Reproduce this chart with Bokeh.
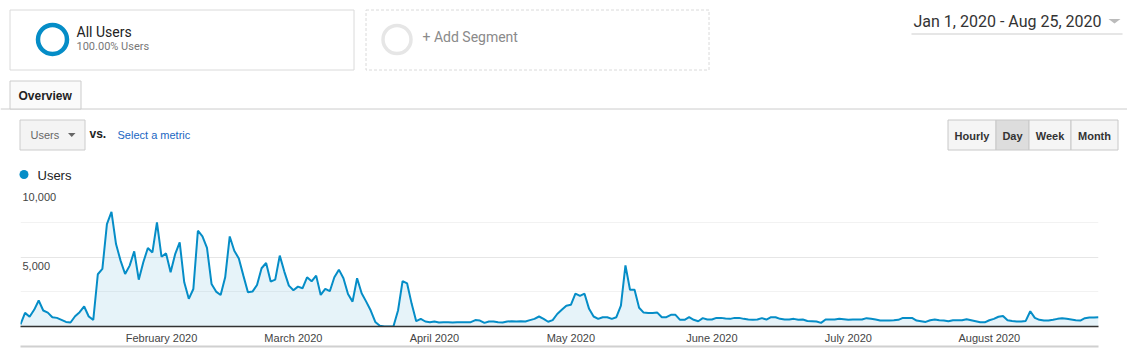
import pandas as pd
from bokeh.plotting import figure
from bokeh.models import Range1d, FixedTicker, DatetimeAxis, ColumnDataSource
from bokeh.layouts import column
from bokeh.core.properties import value
from bokeh.embed import file_html
from bokeh.resources import INLINE

# ---------------- data (daily users, Jan 1 - Aug 25, 2020) ----------------
jan = [150, 980, 700, 1200, 1870, 1150, 1000, 670, 620, 480, 330, 290, 740, 1030, 1440,
       720, 480, 3760, 4140, 7370, 8250, 5930, 4740, 3780, 4380, 5410, 3370, 4620, 5650,
       5330, 7490]
feb = [5020, 5260, 3900, 5200, 6050, 3180, 1990, 2700, 6890, 6480, 5650, 3060, 2510, 2270,
       3540, 6480, 5450, 4900, 3660, 2460, 2510, 2990, 4190, 4570, 3230, 3370, 5100, 3950,
       2940]
mar = [2610, 2870, 2750, 3540, 3250, 3660, 2270, 2700, 2540, 3540, 4090, 3470, 2340, 1790,
       3470, 2390, 1790, 1150, 330, 50, 0, 0, 20, 1150, 3270, 3100, 1630, 380, 550, 360, 310]
apr = [360, 290, 310, 310, 290, 310, 310, 310, 310, 460, 430, 260, 360, 360, 310, 290, 360,
       380, 360, 380, 360, 460, 550, 720, 550, 340, 460, 900, 1200, 1500]
may = [1560, 2360, 2200, 2360, 1270, 720, 550, 670, 670, 550, 670, 1500, 4400, 2640, 2640,
       1350, 1000, 980, 980, 1000, 670, 670, 840, 840, 480, 480, 670, 480, 380, 600, 500]
jun = [500, 620, 620, 580, 550, 620, 620, 550, 500, 480, 500, 600, 500, 670, 670, 550, 500,
       500, 550, 480, 500, 400, 380, 360, 260, 500, 500, 500, 550, 520]
jul = [480, 500, 500, 500, 600, 550, 500, 430, 430, 430, 450, 480, 620, 620, 620, 430, 380,
       330, 450, 500, 450, 430, 380, 450, 450, 450, 520, 450, 380, 300, 300]
aug = [450, 550, 700, 760, 450, 400, 360, 360, 400, 1100, 620, 480, 430, 430, 480, 550, 600,
       550, 500, 450, 430, 600, 650, 650, 670]

users = jan + feb + mar + apr + may + jun + jul + aug
dates = pd.date_range("2020-01-01", periods=len(users), freq="D")

month_ticks = ["2020-02-01", "2020-03-01", "2020-04-01", "2020-05-01",
               "2020-06-01", "2020-07-01", "2020-08-01"]
month_labels = ["February 2020", "March 2020", "April 2020", "May 2020",
                "June 2020", "July 2020", "August 2020"]
y_ticks = [5000, 10000]
y_tick_labels = ["5,000", "10,000"]

# ---------------- styling ----------------
W = 1127
BLUE = "#058dc7"
ARIAL = "Liberation Sans"
ROBOTO = "Roboto"

# ---------------- top (report UI) ----------------
TOP_H = 183
top = figure(width=W, height=TOP_H, x_range=Range1d(0, W), y_range=Range1d(TOP_H, 0),
             output_backend="svg", toolbar_location=None, min_border=0,
             min_border_left=0, min_border_right=0, min_border_top=0, min_border_bottom=0,
             x_axis_location=None, y_axis_location=None, outline_line_color=None,
             frame_align=False)
top.grid.visible = False

# segment boxes
top.quad(left=9.5, right=353.5, top=9.5, bottom=69.5, fill_color="white", line_color="#dadada")
top.quad(left=365.5, right=708.5, top=9.5, bottom=69.5, fill_color="white", line_color="#dadada",
         line_dash="3 2")
top.circle(x=52, y=39, radius=14.5, fill_color=None, line_color=BLUE, line_width=4.5)
top.circle(x=396.5, y=39, radius=14, fill_color=None, line_color="#e6e6e6", line_width=3.5)
top.text(x=[76], y=[31.5], text=["All Users"], text_font=value(ROBOTO), text_font_size="14px",
         text_color="#222222", text_baseline="middle")
top.text(x=[76], y=[45.5], text=["100.00% Users"], text_font=value(ROBOTO), text_font_size="11px",
         text_color="#777777", text_baseline="middle")
top.text(x=[422], y=[36.5], text=["+ Add Segment"], text_font=value(ROBOTO), text_font_size="14px",
         text_color="#8a8a8a", text_baseline="middle")

# date range
top.text(x=[913], y=[21], text=["Jan 1, 2020 - Aug 25, 2020"], text_font=value(ROBOTO),
         text_font_size="16px", text_color="#333333", text_baseline="middle")
top.patch(x=[1108, 1120, 1114], y=[18.5, 18.5, 23], fill_color="#bbbbbb", line_color=None)
top.segment(x0=911, y0=33.5, x1=1122, y1=33.5, line_color="#e6e6e6", line_width=2)

# tab + separator
top.segment(x0=0, y0=108.5, x1=W, y1=108.5, line_color="#cccccc", line_width=1)
top.quad(left=9.5, right=80.5, top=80.5, bottom=108.5, fill_color="#fafafa", line_color="#cccccc")
top.text(x=[18], y=[95], text=["Overview"], text_font=value(ARIAL), text_font_size="12px",
         text_font_style="bold", text_color="#222222", text_baseline="middle")

# metric selector
top.quad(left=19.5, right=84.5, top=119.5, bottom=149.5, fill_color="#f4f4f4", line_color="#cccccc")
top.text(x=[30], y=[134.5], text=["Users"], text_font=value(ARIAL), text_font_size="11px",
         text_color="#666666", text_baseline="middle")
top.patch(x=[67.5, 75, 71.25], y=[132.5, 132.5, 136.5], fill_color="#666666", line_color=None)
top.text(x=[89], y=[133.5], text=["vs."], text_font=value(ARIAL), text_font_size="12px",
         text_font_style="bold", text_color="#222222", text_baseline="middle")
top.text(x=[117], y=[134.5], text=["Select a metric"], text_font=value(ARIAL),
         text_font_size="11px", text_color="#1a66c2", text_baseline="middle")

# granularity buttons
bl = [947.5, 995.5, 1028.5, 1070.5]
br = [995.5, 1028.5, 1070.5, 1117.5]
bfill = ["#f5f5f5", "#dddddd", "#f5f5f5", "#f5f5f5"]
top.quad(left=bl, right=br, top=119.5, bottom=149.5, fill_color=bfill, line_color="#c8c8c8")
top.text(x=[(a + b) / 2 for a, b in zip(bl, br)], y=[135] * 4,
         text=["Hourly", "Day", "Week", "Month"], text_font=value(ARIAL), text_font_size="11px",
         text_font_style="bold", text_color="#333333", text_align="center", text_baseline="middle")

# legend
top.circle(x=23.5, y=174, radius=4.5, fill_color=BLUE, line_color=None)
top.text(x=[37], y=[174.5], text=["Users"], text_font=value(ARIAL), text_font_size="13px",
         text_color="#222222", text_baseline="middle")

# ---------------- chart ----------------
src = ColumnDataSource(dict(date=dates, users=users, zero=[0] * len(users)))
chart = figure(width=W, height=351 - TOP_H, x_axis_type="datetime",
               x_range=Range1d(dates[0].to_pydatetime(), dates[-1].to_pydatetime()),
               y_range=Range1d(0, 10000), y_axis_location=None,
               output_backend="svg", toolbar_location=None,
               min_border_left=20, min_border_right=29, min_border_top=4, min_border_bottom=25,
               outline_line_color=None, frame_align=False)
chart.xgrid.visible = False
chart.ygrid.ticker = FixedTicker(ticks=[0] + y_ticks, minor_ticks=[2500, 7500])
chart.ygrid.grid_line_color = "#e6e6e6"
chart.ygrid.minor_grid_line_color = "#f2f2f2"

chart.varea(x="date", y1="zero", y2="users", source=src, fill_color=BLUE, fill_alpha=0.1)
chart.line(x="date", y="users", source=src, line_color=BLUE, line_width=2)

chart.text(x=[dates[0]] * len(y_ticks), y=y_ticks, text=y_tick_labels, x_offset=2, y_offset=9,
           text_baseline="middle", text_font=value(ARIAL), text_font_size="11px",
           text_color="#444444")

tick_ms = [int(pd.Timestamp(t).value // 10**6) for t in month_ticks]
xa = chart.xaxis[0]
xa.ticker = FixedTicker(ticks=tick_ms)
xa.major_label_overrides = {t: l for t, l in zip(tick_ms, month_labels)}
xa.axis_line_color = "#333333"
xa.axis_line_width = 1.5
xa.major_tick_line_color = None
xa.minor_tick_line_color = None
xa.major_tick_out = 0
xa.major_tick_in = 0
xa.major_label_standoff = 5
xa.major_label_text_font = ARIAL
xa.major_label_text_font_size = "11px"
xa.major_label_text_color = "#444444"

ax2 = DatetimeAxis(ticker=FixedTicker(ticks=[]), axis_line_color="#d0d0d0", axis_line_width=2,
                   major_tick_line_color=None, minor_tick_line_color=None,
                   major_label_text_font_size="0px", major_tick_out=0, major_tick_in=0)
chart.add_layout(ax2, "below")

layout = column(top, chart, spacing=0)
open("out.html", "w").write(file_html(layout, INLINE))
